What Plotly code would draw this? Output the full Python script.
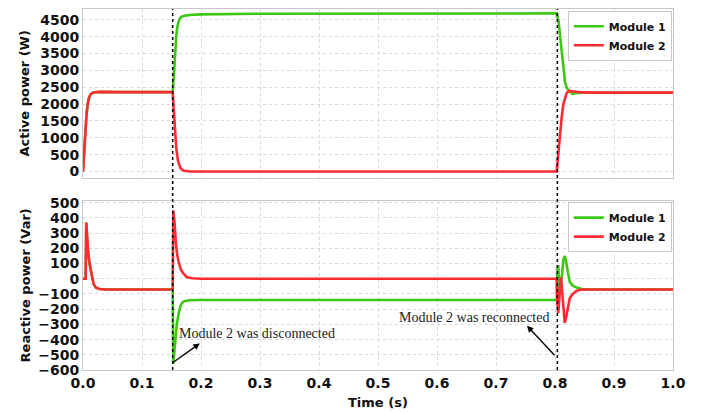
import plotly.graph_objects as go

# ---------------- data ----------------
t_p1 = [0, 0.002, 0.004, 0.006, 0.008, 0.010, 0.013, 0.016, 0.020, 0.030, 0.060, 0.100, 0.152,
        0.154, 0.156, 0.158, 0.160, 0.163, 0.166, 0.170, 0.180, 0.200, 0.300, 0.500, 0.700, 0.803,
        0.806, 0.808, 0.811, 0.814, 0.817, 0.820, 0.825, 0.830, 0.835, 0.845, 0.870, 0.900, 1.000]
p1 = [0, 650, 1250, 1700, 2000, 2180, 2290, 2330, 2350, 2360, 2355, 2360, 2355,
      2850, 3500, 4000, 4300, 4500, 4580, 4610, 4640, 4660, 4680, 4685, 4690, 4690,
      4450, 4120, 3500, 2950, 2650, 2480, 2360, 2300, 2320, 2335, 2340, 2340, 2340]

t_p2 = [0, 0.002, 0.004, 0.006, 0.008, 0.010, 0.013, 0.016, 0.020, 0.030, 0.060, 0.100, 0.152,
        0.154, 0.156, 0.158, 0.161, 0.165, 0.170, 0.180, 0.300, 0.500, 0.700, 0.803,
        0.805, 0.808, 0.811, 0.814, 0.817, 0.820, 0.825, 0.830, 0.835, 0.845, 0.870, 0.900, 1.000]
p2 = [0, 650, 1250, 1700, 2000, 2180, 2290, 2330, 2350, 2360, 2355, 2360, 2355,
      1800, 1200, 700, 320, 100, 30, 0, 0, 0, 0, 0,
      400, 1020, 1550, 1985, 2200, 2336, 2390, 2380, 2360, 2345, 2340, 2340, 2340]

t_q1 = [0, 0.0045, 0.0055, 0.007, 0.009, 0.012, 0.015, 0.018, 0.022, 0.028, 0.040, 0.100, 0.152,
        0.153, 0.155, 0.157, 0.159, 0.162, 0.165, 0.168, 0.172, 0.180, 0.200, 0.500, 0.803,
        0.804, 0.8055, 0.807, 0.8085, 0.810, 0.812, 0.814, 0.8165, 0.819, 0.822, 0.825, 0.830,
        0.837, 0.845, 0.860, 1.000]
q1 = [0, 0, 370, 260, 160, 80, 10, -35, -58, -67, -70, -70, -70,
      -560, -470, -370, -300, -230, -180, -158, -147, -141, -140, -140, -140,
      50, 90, -20, -100, -60, 40, 120, 150, 110, 40, -20, -45,
      -58, -67, -70, -70]

t_q2 = [0, 0.0045, 0.0055, 0.007, 0.009, 0.012, 0.015, 0.018, 0.022, 0.028, 0.040, 0.100, 0.152,
        0.153, 0.155, 0.157, 0.159, 0.162, 0.166, 0.170, 0.176, 0.185, 0.200, 0.500, 0.803,
        0.804, 0.8055, 0.807, 0.809, 0.810, 0.812, 0.814, 0.8165, 0.819, 0.822, 0.825, 0.830,
        0.837, 0.845, 0.860, 1.000]
q2 = [0, 0, 370, 260, 160, 80, 10, -35, -58, -67, -70, -70, -70,
      450, 380, 260, 175, 110, 60, 35, 12, 3, 0, 0, 0,
      -150, -225, -150, -20, 10, -80, -200, -290, -250, -180, -128, -100,
      -78, -71, -70, -70]

x_ticks = [0.0, 0.1, 0.2, 0.3, 0.4, 0.5, 0.6, 0.7, 0.8, 0.9, 1.0]
x_tick_labels = ["0.0", "0.1", "0.2", "0.3", "0.4", "0.5", "0.6", "0.7", "0.8", "0.9", "1.0"]
p_ticks = [0, 500, 1000, 1500, 2000, 2500, 3000, 3500, 4000, 4500]
q_ticks = [-600, -500, -400, -300, -200, -100, 0, 100, 200, 300, 400, 500]
events = [0.152, 0.804]
series_names = ["Module 1", "Module 2"]

# ---------------- style ----------------
GREEN = "#3cc814"
RED = "#ff2b33"
SANS = "DejaVu Sans"
SERIF = "Liberation Serif"
LW = 2.6

fig = go.Figure()
fig.add_trace(go.Scatter(x=t_p1, y=p1, mode="lines", name=series_names[0],
                         line=dict(color=GREEN, width=LW), xaxis="x", yaxis="y", legend="legend"))
fig.add_trace(go.Scatter(x=t_p2, y=p2, mode="lines", name=series_names[1],
                         line=dict(color=RED, width=LW), xaxis="x", yaxis="y", legend="legend"))
fig.add_trace(go.Scatter(x=t_q1, y=q1, mode="lines", name=series_names[0],
                         line=dict(color=GREEN, width=LW), xaxis="x2", yaxis="y2", legend="legend2"))
fig.add_trace(go.Scatter(x=t_q2, y=q2, mode="lines", name=series_names[1],
                         line=dict(color=RED, width=LW), xaxis="x2", yaxis="y2", legend="legend2"))

grid = dict(showgrid=True, gridcolor="#d9d9d9", griddash="dot", gridwidth=1,
            showline=True, linecolor="#c8c8c8", linewidth=1, mirror=True,
            zeroline=False, ticks="")
tickfont = dict(family=SANS, size=14, color="#111111", weight="bold")

top_dom = [0.5313, 1.0]
bot_dom = [0.0, 0.4687]

fig.update_layout(
    width=712, height=412,
    margin=dict(l=83, r=39, t=3, b=42),
    paper_bgcolor="white", plot_bgcolor="white",
    showlegend=True,
    xaxis=dict(domain=[0, 1], range=[0, 1], tickvals=x_ticks, showticklabels=False,
               anchor="y", matches="x2", **grid),
    yaxis=dict(domain=top_dom, range=[-200, 4820], tickvals=p_ticks, tickfont=tickfont,
               anchor="x", **grid),
    xaxis2=dict(domain=[0, 1], range=[0, 1], tickvals=x_ticks, ticktext=x_tick_labels,
                tickfont=tickfont, anchor="y2", **grid),
    yaxis2=dict(domain=bot_dom, range=[-600, 513], tickvals=q_ticks, tickfont=tickfont,
                anchor="x2", **grid),
    legend=dict(x=0.998, y=0.995, xanchor="right", yanchor="top",
                bgcolor="white", bordercolor="#c8c8c8", borderwidth=1,
                font=dict(family=SANS, size=11, color="#111111", weight="bold"),
                itemwidth=30, tracegroupgap=0),
    legend2=dict(x=0.998, y=0.465, xanchor="right", yanchor="top",
                 bgcolor="white", bordercolor="#c8c8c8", borderwidth=1,
                 font=dict(family=SANS, size=11, color="#111111", weight="bold"),
                 itemwidth=30, tracegroupgap=0),
)

for ev in events:
    fig.add_shape(type="line", xref="x2", yref="paper", x0=ev, x1=ev, y0=0, y1=1,
                  line=dict(color="black", width=1.5, dash="dot"), layer="above")

title_font = dict(family=SANS, size=13, color="#111111", weight="bold")
fig.add_annotation(text="Active power (W)", xref="paper", yref="paper", x=-0.0983, y=0.7657,
                   textangle=-90, showarrow=False, font=title_font, xanchor="center", yanchor="middle")
fig.add_annotation(text="Reactive power (Var)", xref="paper", yref="paper", x=-0.0983, y=0.2343,
                   textangle=-90, showarrow=False, font=title_font, xanchor="center", yanchor="middle")
fig.add_annotation(text="Time (s)", xref="paper", yref="paper", x=0.5, y=-0.0899,
                   showarrow=False, font=title_font, xanchor="center", yanchor="middle")

note_font = dict(family=SERIF, size=14, color="#222222")
fig.add_annotation(text="Module 2 was disconnected", xref="x2", yref="y2", x=0.295, y=-361,
                   showarrow=False, font=note_font, xanchor="center", yanchor="middle")
fig.add_annotation(text="Module 2 was reconnected", xref="x2", yref="y2", x=0.6627, y=-257,
                   showarrow=False, font=note_font, xanchor="center", yanchor="middle")
fig.add_annotation(text="", xref="x2", yref="y2", x=0.198, y=-425, ax=-28, ay=20,
                   showarrow=True, arrowhead=2, arrowsize=1, arrowwidth=1.3, arrowcolor="black")
fig.add_annotation(text="", xref="x2", yref="y2", x=0.7525, y=-309, ax=29, ay=31,
                   showarrow=True, arrowhead=2, arrowsize=1, arrowwidth=1.3, arrowcolor="black")

fig.write_html("out.html")
